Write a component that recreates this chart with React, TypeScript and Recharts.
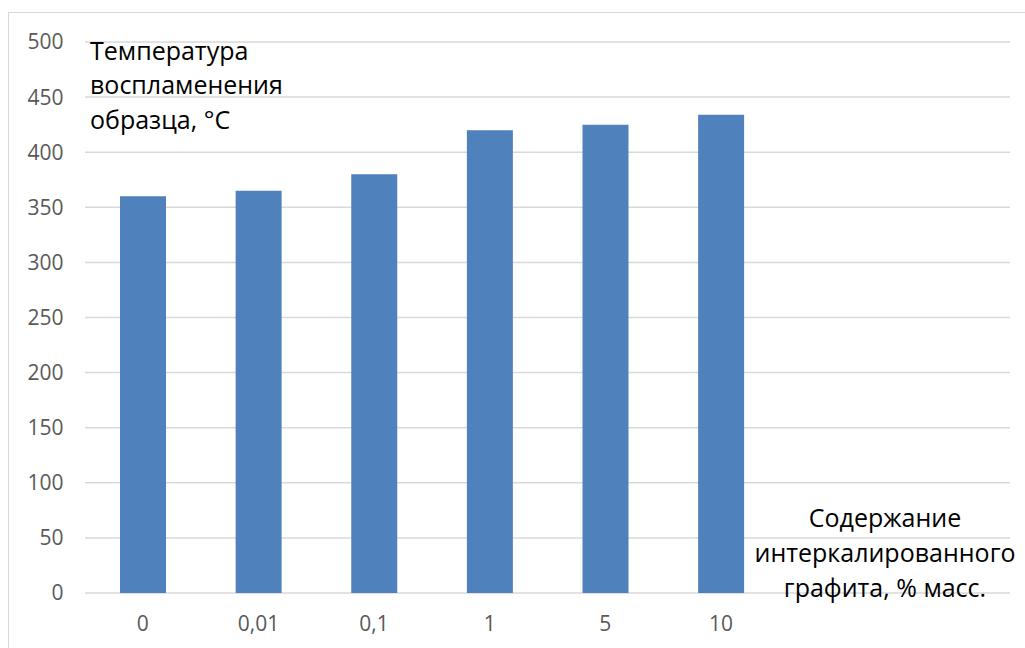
import React from 'react';
import { BarChart, Bar, XAxis, YAxis, CartesianGrid } from 'recharts';

const categories = ['0', '0,01', '0,1', '1', '5', '10', '', ''];
const temperatures = [360, 365, 380, 420, 425, 434];
const yTicks = [0, 50, 100, 150, 200, 250, 300, 350, 400, 450, 500];
const yTitleLines = ['Температура', 'воспламенения', 'образца, °C'];
const xTitleLines = ['Содержание', 'интеркалированного', 'графита, % масс.'];

const data = categories.map((c, i) => ({ cat: c, temp: i < temperatures.length ? temperatures[i] : null }));

const FONT = '"Open Sans", sans-serif';

export default function App() {
  return (
    <div
      style={{
        position: 'fixed',
        left: 8,
        top: 12,
        width: 1017,
        height: 636,
        borderLeft: '1px solid #d9d9d9',
        borderTop: '1px solid #d9d9d9',
        boxSizing: 'border-box',
        background: '#fff',
        fontFamily: FONT,
      }}
    >
      <BarChart
        width={1016}
        height={635}
        data={data}
        margin={{ top: 29, right: 15, bottom: 15, left: 16 }}
      >
        <CartesianGrid vertical={false} stroke="#d9d9d9" strokeWidth={1.5} />
        <XAxis
          dataKey="cat"
          axisLine={false}
          tickLine={false}
          tickSize={0}
          tickMargin={23.5}
          height={40}
          interval={0}
          tick={{ fill: '#595959', fontSize: 21, fontFamily: FONT }}
        />
        <YAxis
          domain={[0, 500]}
          ticks={yTicks}
          axisLine={false}
          tickLine={false}
          tickSize={0}
          tickMargin={21.5}
          width={60}
          interval={0}
          tick={{ fill: '#595959', fontSize: 21, fontFamily: FONT }}
        />
        <Bar dataKey="temp" fill="#4f81bd" barSize={46} isAnimationActive={false} />
      </BarChart>
      <svg
        width={1016}
        height={635}
        style={{ position: 'absolute', left: 0, top: 0, pointerEvents: 'none' }}
      >
        {yTitleLines.map((t, i) => (
          <text key={t} x={81} y={46.7 + i * 34.5} fontSize={25} fontFamily={FONT} fill="#000">
            {t}
          </text>
        ))}
        {xTitleLines.map((t, i) => (
          <text key={t} x={876} y={513.5 + i * 35} fontSize={25} fontFamily={FONT} fill="#000" textAnchor="middle">
            {t}
          </text>
        ))}
      </svg>
    </div>
  );
}
